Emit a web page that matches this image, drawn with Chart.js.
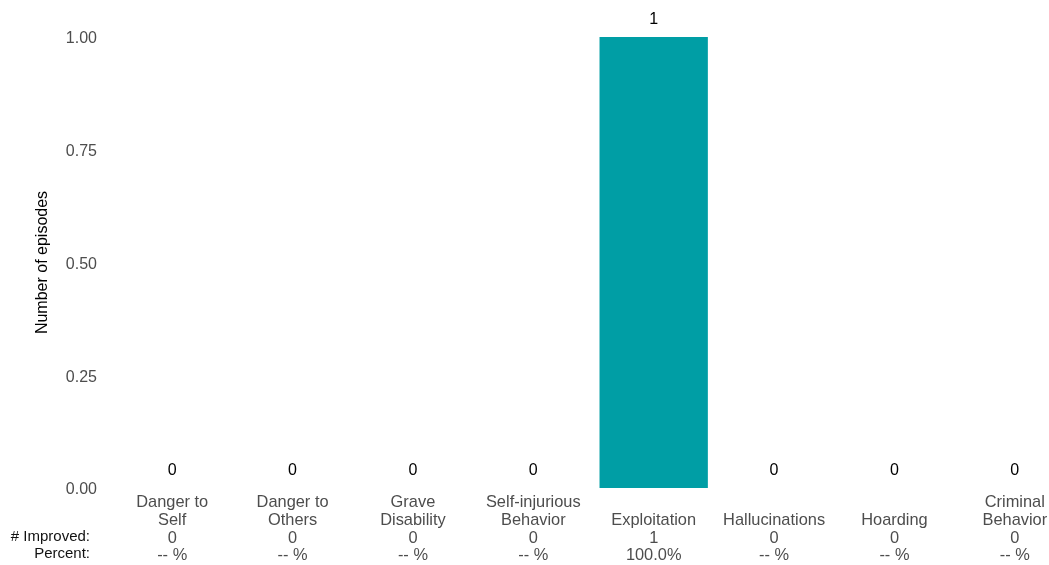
<!DOCTYPE html>
<html>
<head>
<meta charset="utf-8">
<script src="https://cdn.jsdelivr.net/npm/chart.js@4/dist/chart.umd.min.js"></script>
<style>
  html, body { margin: 0; padding: 0; background: #fff; overflow: hidden; }
  #wrap { width: 1076px; height: 565px; }
</style>
</head>
<body>
<div id="wrap"><canvas id="episodesChart" width="1076" height="565"></canvas></div>
<script>
  const categories = [
    ['Danger to', 'Self'],
    ['Danger to', 'Others'],
    ['Grave', 'Disability'],
    ['Self-injurious', 'Behavior'],
    ['', 'Exploitation'],
    ['', 'Hallucinations'],
    ['', 'Hoarding'],
    ['Criminal', 'Behavior']
  ];
  const episodes = [0, 0, 0, 0, 1, 0, 0, 0];
  const improved = [0, 0, 0, 0, 1, 0, 0, 0];
  const percents = ['-- %', '-- %', '-- %', '-- %', '100.0%', '-- %', '-- %', '-- %'];
  const yTicks = [0, 0.25, 0.5, 0.75, 1];
  const rowLabels = ['# Improved:', 'Percent:'];

  const FONT = "'Liberation Sans', Arial, sans-serif";
  const X_SIZE = 16.4;
  const LINE_H = 17.7;

  const tickLabels = categories.map((c, i) => [c[0], c[1], String(improved[i]), percents[i]]);

  const extrasPlugin = {
    id: 'extras',
    afterDatasetsDraw(chart) {
      const ctx = chart.ctx;
      const meta = chart.getDatasetMeta(0);
      ctx.save();
      ctx.font = '16px ' + FONT;
      ctx.fillStyle = '#000';
      ctx.textAlign = 'center';
      ctx.textBaseline = 'middle';
      meta.data.forEach((bar, i) => {
        ctx.fillText(String(episodes[i]), bar.x, bar.y - 17);
      });
      // row labels for the table under the axis
      ctx.textAlign = 'right';
      ctx.fillStyle = '#111';
      ctx.font = '15px ' + FONT;
      const firstLineY = chart.chartArea.bottom + 13;
      rowLabels.forEach((t, k) => {
        ctx.fillText(t, chart.chartArea.left - 22, firstLineY + LINE_H * (2 + k));
      });
      ctx.restore();
    }
  };

  new Chart(document.getElementById('episodesChart'), {
    type: 'bar',
    data: {
      labels: tickLabels,
      datasets: [{
        data: episodes,
        backgroundColor: '#009EA5',
        borderWidth: 0,
        barPercentage: 0.9,
        categoryPercentage: 1.0
      }]
    },
    options: {
      responsive: false,
      animation: false,
      layout: { padding: { left: 33, top: 37, right: 1, bottom: 0 } },
      plugins: {
        legend: { display: false },
        tooltip: { enabled: false }
      },
      scales: {
        x: {
          grid: { display: false },
          border: { display: false },
          ticks: {
            color: '#4d4d4d',
            font: { family: FONT, size: X_SIZE, lineHeight: LINE_H / X_SIZE },
            padding: -2,
            maxRotation: 0,
            autoSkip: false
          },
          afterFit(scale) { scale.height = 77; }
        },
        y: {
          min: 0,
          max: 1,
          grid: { display: false },
          border: { display: false },
          afterBuildTicks(scale) { scale.ticks = yTicks.map(v => ({ value: v })); },
          ticks: {
            color: '#4d4d4d',
            font: { family: FONT, size: 16 },
            padding: 7,
            labelOffset: 2,
            callback: v => Number(v).toFixed(2)
          },
          title: {
            display: true,
            text: 'Number of episodes',
            color: '#000',
            font: { family: FONT, size: 16 },
            padding: 0
          },
          afterFit(scale) { scale.width = 79; }
        }
      }
    },
    plugins: [extrasPlugin]
  });
</script>
</body>
</html>
